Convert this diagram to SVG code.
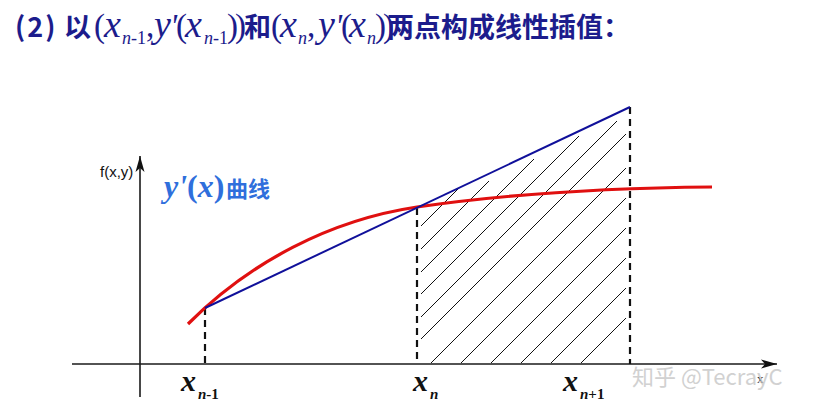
<svg xmlns="http://www.w3.org/2000/svg" width="823" height="414" viewBox="0 0 823 414">
<defs>
<style>
.cjk{font-family:"Noto Sans CJK SC","Noto Sans",sans-serif;font-weight:bold}
.ser{font-family:"Liberation Serif",serif}
.it{font-style:italic}
.ttl{fill:#1c1c8c}
.axis{stroke:#1a1a1a;stroke-width:1.6;fill:none}
.dash{stroke:#111;stroke-width:2.2;stroke-dasharray:7,5;fill:none}
.hatch line{stroke:#111;stroke-width:1}
.lbl{font-family:"Liberation Serif",serif;font-weight:bold;font-style:italic;fill:#111}
</style>
<marker id="arr" markerUnits="userSpaceOnUse" markerWidth="18" markerHeight="10" refX="16" refY="5" orient="auto">
<path d="M0,0.5 L16,5 L0,9.5 L4,5 Z" fill="#111"/>
</marker>
</defs>
<rect width="823" height="414" fill="#fff"/>

<g id="title">
<text y="37" font-size="27" class="ttl"><tspan class="cjk" x="15" letter-spacing="2">(2)</tspan><tspan class="cjk" x="64">以</tspan><tspan class="ser" x="94" font-size="33">(</tspan><tspan class="ser it" x="104" font-size="38">x</tspan><tspan class="ser" x="122" y="44" font-size="18"><tspan class="it">n</tspan>-1</tspan><tspan class="ser" x="146" y="37" font-size="33">,</tspan><tspan class="ser it" x="154" font-size="38">y</tspan><tspan class="ser it" x="170" font-size="33">'</tspan><tspan class="ser" x="176" font-size="33">(</tspan><tspan class="ser it" x="185" font-size="38">x</tspan><tspan class="ser" x="204" y="44" font-size="18"><tspan class="it">n</tspan>-1</tspan><tspan class="ser" x="227" y="37" font-size="33" letter-spacing="-3">))</tspan><tspan class="cjk" x="244">和</tspan><tspan class="ser" x="271" font-size="33">(</tspan><tspan class="ser it" x="280" font-size="38">x</tspan><tspan class="ser it" x="298" y="44" font-size="18">n</tspan><tspan class="ser" x="307" y="37" font-size="33">,</tspan><tspan class="ser it" x="318" font-size="38">y</tspan><tspan class="ser it" x="335" font-size="33">'</tspan><tspan class="ser" x="341" font-size="33">(</tspan><tspan class="ser it" x="349" font-size="38">x</tspan><tspan class="ser it" x="367" y="44" font-size="18">n</tspan><tspan class="ser" x="375" y="37" font-size="33" letter-spacing="-3">))</tspan><tspan class="cjk" x="387" font-size="27">两点构成线性插值：</tspan></text>
</g>

<g id="hatching" class="hatch">
<line x1="421" y1="226" x2="459" y2="188"/>
<line x1="421" y1="249" x2="489" y2="181"/>
<line x1="421" y1="272" x2="534" y2="159"/>
<line x1="421" y1="294" x2="579" y2="136"/>
<line x1="421" y1="317" x2="617" y2="121"/>
<line x1="421" y1="339" x2="626" y2="134"/>
<line x1="431" y1="363" x2="626" y2="168"/>
<line x1="461" y1="363" x2="626" y2="198"/>
<line x1="491" y1="363" x2="626" y2="228"/>
<line x1="521" y1="363" x2="626" y2="258"/>
<line x1="551" y1="363" x2="626" y2="288"/>
<line x1="581" y1="363" x2="626" y2="318"/>
</g>

<g id="axes">
<line class="axis" x1="72" y1="364" x2="777" y2="364" marker-end="url(#arr)"/>
<line class="axis" x1="140" y1="397" x2="140" y2="156" marker-end="url(#arr)"/>
<text x="100" y="177" font-family="Liberation Sans, Arial, sans-serif" font-size="15" fill="#111">f(x,y)</text>
<text x="757" y="383" font-family="Liberation Serif, serif" font-size="13" fill="#111">x</text>
</g>

<g id="connectors">
<line class="dash" x1="205" y1="308" x2="205" y2="364"/>
<line class="dash" x1="417" y1="208" x2="417" y2="364"/>
<line class="dash" x1="630" y1="107" x2="630" y2="364"/>
<path id="curve" d="M188,324 C250,262 330,220 417,207 C500,195 600,188 712,187" fill="none" stroke="#e01010" stroke-width="3.2"/>
<line id="chord" x1="205" y1="308" x2="630" y2="107" stroke="#10109a" stroke-width="2"/>
</g>

<g id="curve-label">
<text x="164" y="197" fill="#2f6fdc" font-weight="bold" font-size="32"><tspan class="ser it">y'</tspan><tspan class="ser">(</tspan><tspan class="ser it">x</tspan><tspan class="ser">)</tspan><tspan class="cjk" font-size="22" x="226">曲线</tspan></text>
</g>

<g id="x-labels">
<text class="lbl" y="391" font-size="30"><tspan x="181">x</tspan><tspan x="198" y="399" font-size="15">n<tspan font-style="normal">-1</tspan></tspan></text>
<text class="lbl" y="391" font-size="30"><tspan x="413">x</tspan><tspan x="430" y="399" font-size="15">n</tspan></text>
<text class="lbl" y="391" font-size="30"><tspan x="563">x</tspan><tspan x="580" y="399" font-size="15">n<tspan font-style="normal">+1</tspan></tspan></text>
</g>

<g id="watermark">
<text x="632" y="385" font-family="Noto Sans CJK SC, Noto Sans, sans-serif" font-size="22" fill="#c9c9c9" opacity="0.85">知乎 @TecrayC</text>
</g>
</svg>
